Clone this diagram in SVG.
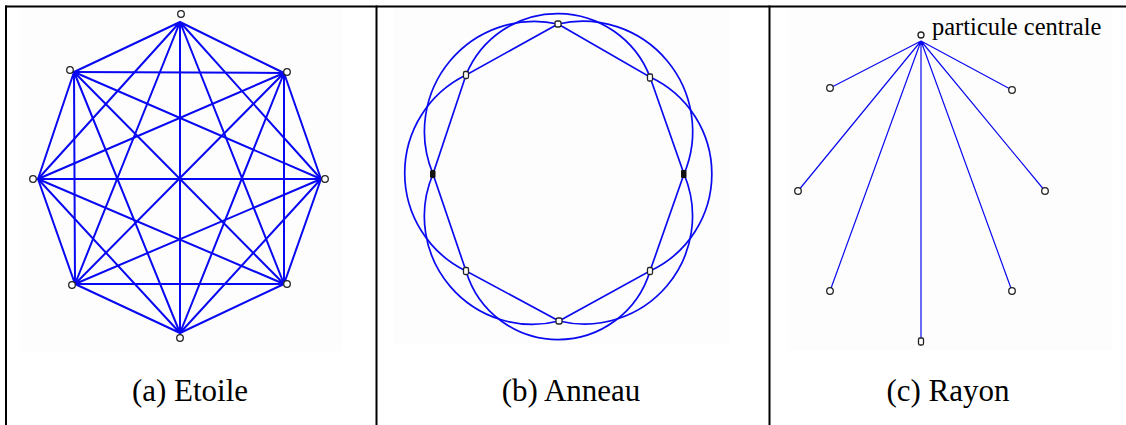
<svg xmlns="http://www.w3.org/2000/svg" width="1126" height="425" viewBox="0 0 1126 425">
<style>
.border{stroke:#000;stroke-width:2;fill:none}
.bg{fill:#fdfdfd}
.ea{stroke:#0808f2;stroke-width:2;fill:none;stroke-linecap:round}
.eb{stroke:#0a0af0;stroke-width:1.7;fill:none;stroke-linecap:round}
.ec{stroke:#0a0af0;stroke-width:1.2;fill:none}
.nd{fill:#fff;stroke:#222;stroke-width:1.3}
.cap{font-family:"Liberation Serif","Times New Roman",serif;font-size:31px;fill:#000;text-anchor:middle}
.lbl{font-family:"Liberation Serif","Times New Roman",serif;font-size:24.5px;fill:#000}
</style>
<rect width="1126" height="425" fill="#fff"/>
<g id="table">
<rect class="bg" x="20" y="8" width="322" height="343"/>
<rect class="bg" x="393" y="8" width="336" height="336"/>
<rect class="bg" x="788" y="8" width="324" height="342"/>
<line class="border" x1="5" y1="6.5" x2="1126" y2="6.5"/>
<line class="border" x1="6" y1="5.5" x2="6" y2="425"/>
<line class="border" x1="376.5" y1="5.5" x2="376.5" y2="425"/>
<line class="border" x1="769.5" y1="5.5" x2="769.5" y2="425"/>
</g>

<g id="connectors">
<g id="edges-a" class="ea">
<path d="M180,22 L284,73 M180,22 L321,179 M180,22 L284,284 M180,22 L180,333 M180,22 L75,284 M180,22 L38,179 M180,22 L74,72"/>
<path d="M284,73 L321,179 M284,73 L284,284 M284,73 L180,333 M284,73 L75,284 M284,73 L38,179 M284,73 L74,72"/>
<path d="M321,179 L284,284 M321,179 L180,333 M321,179 L75,284 M321,179 L38,179 M321,179 L74,72"/>
<path d="M284,284 L180,333 M284,284 L75,284 M284,284 L38,179 M284,284 L74,72"/>
<path d="M180,333 L75,284 M180,333 L38,179 M180,333 L74,72"/>
<path d="M75,284 L38,179 M75,284 L74,72"/>
<path d="M38,179 L74,72"/>
</g>
<g id="edges-b" class="eb">
<path d="M558,24 L650,77 L684,174 L650,271 L559,321 L466,271 L433,174 L466,75 Z"/>
<path d="M558,24 A110,110 0 0 1 684,174"/>
<path d="M684,174 A108,108 0 0 1 559,321"/>
<path d="M559,321 A108,108 0 0 1 433,174"/>
<path d="M433,174 A110,110 0 0 1 558,24"/>
<path d="M466,75 A99,99 0 0 1 650,77"/>
<path d="M650,77 A107,107 0 0 1 650,271"/>
<path d="M650,271 A96,96 0 0 1 466,271"/>
<path d="M466,271 A109,109 0 0 1 466,75"/>
</g>
<g id="edges-c" class="ec">
<path d="M921,41 L830,88 M921,41 L1012,90 M921,41 L798,191 M921,41 L1045,191 M921,41 L830,291 M921,41 L1012,291 M921,41 L921,342"/>
</g>
</g>

<g id="panel-a">
<g id="a-n0"><circle class="nd" cx="181" cy="14" r="3.3"/></g>
<g id="a-n1"><circle class="nd" cx="287" cy="72" r="3.3"/></g>
<g id="a-n2"><circle class="nd" cx="325" cy="179" r="3.3"/></g>
<g id="a-n3"><circle class="nd" cx="287" cy="284" r="3.3"/></g>
<g id="a-n4"><circle class="nd" cx="180" cy="338" r="3.3"/></g>
<g id="a-n5"><circle class="nd" cx="72" cy="285" r="3.3"/></g>
<g id="a-n6"><circle class="nd" cx="33" cy="179" r="3.3"/></g>
<g id="a-n7"><circle class="nd" cx="70" cy="70" r="3.3"/></g>
<text class="cap" x="190" y="401">(a) Etoile</text>
</g>

<g id="panel-b">
<g id="b-n0"><rect class="nd" x="555" y="21" width="6" height="6" rx="2"/></g>
<g id="b-n1"><rect class="nd" x="647.5" y="74" width="5" height="7" rx="1.5"/></g>
<g id="b-n2"><rect x="681" y="170" width="5.5" height="8" rx="1" fill="#111"/></g>
<g id="b-n3"><rect class="nd" x="647.5" y="267.5" width="5" height="7" rx="1.5"/></g>
<g id="b-n4"><rect class="nd" x="556" y="318" width="6" height="6" rx="2"/></g>
<g id="b-n5"><rect class="nd" x="463.5" y="267.5" width="5" height="7" rx="1.5"/></g>
<g id="b-n6"><rect x="430" y="170" width="5.5" height="8" rx="1.5" fill="#111"/></g>
<g id="b-n7"><rect class="nd" x="463.5" y="71.5" width="5" height="7" rx="1.5"/></g>
<text class="cap" x="571" y="401">(b) Anneau</text>
</g>

<g id="panel-c">
<g id="c-center"><circle class="nd" cx="921" cy="35" r="3"/><text class="lbl" x="932" y="35">particule centrale</text></g>
<g id="c-n1"><circle class="nd" cx="830" cy="88" r="3.3"/></g>
<g id="c-n2"><circle class="nd" cx="1012" cy="90" r="3.3"/></g>
<g id="c-n3"><circle class="nd" cx="798" cy="191" r="3.3"/></g>
<g id="c-n4"><circle class="nd" cx="1045" cy="191" r="3.3"/></g>
<g id="c-n5"><circle class="nd" cx="830" cy="291" r="3.3"/></g>
<g id="c-n6"><circle class="nd" cx="1012" cy="291" r="3.3"/></g>
<g id="c-n7"><rect class="nd" x="918.5" y="338" width="5" height="7" rx="1.5"/></g>
<text class="cap" x="948" y="401">(c) Rayon</text>
</g>
</svg>
